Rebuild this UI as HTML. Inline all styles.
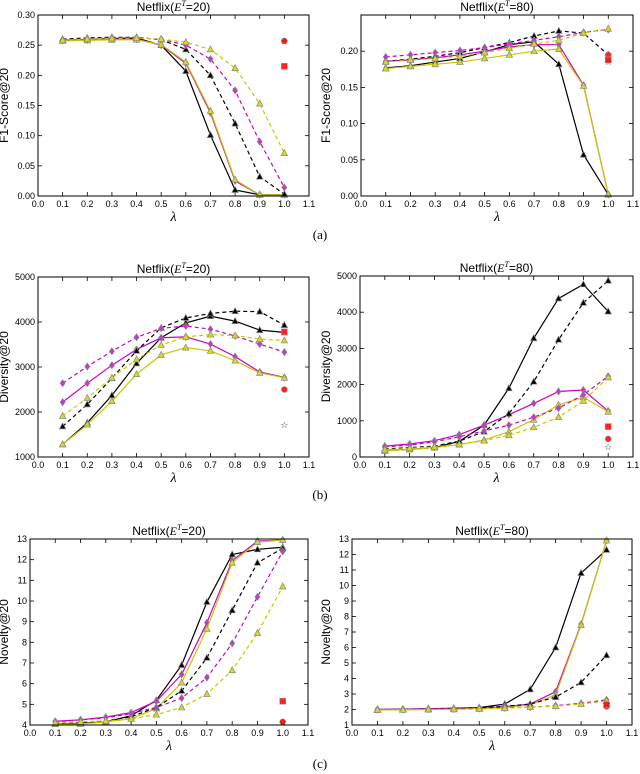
<!DOCTYPE html>
<html><head><meta charset="utf-8"><style>
html,body{margin:0;padding:0;background:#fff;}
svg{display:block;font-family:"Liberation Sans",sans-serif;}
</style></head><body>
<svg id="fig" width="640" height="774" viewBox="0 0 640 774"></svg>
<script>
const lambdas=[0.1,0.2,0.3,0.4,0.5,0.6,0.7,0.8,0.9,1.0];
const xTicks=[0.0,0.1,0.2,0.3,0.4,0.5,0.6,0.7,0.8,0.9,1.0,1.1];
const seriesNames=['black-solid','magenta-solid','yellow-solid','black-dashed','magenta-dashed','yellow-dashed'];
const f1E20=[
[.258,.259,.261,.262,.25,.207,.101,.01,.002,.002],
[.258,.259,.26,.26,.25,.22,.138,.025,.002,.002],
[.257,.258,.259,.259,.251,.222,.141,.027,.002,.002],
[.26,.262,.263,.263,.259,.243,.2,.12,.032,.003],
[.259,.26,.262,.262,.26,.25,.227,.175,.09,.014],
[.258,.26,.261,.262,.26,.255,.243,.212,.153,.071]];
const f1E20Red=[.257,.215,.256];
const f1E80=[
[.177,.18,.185,.19,.199,.209,.213,.182,.057,.002],
[.186,.188,.191,.195,.2,.206,.209,.209,.153,.002],
[.176,.179,.182,.185,.19,.195,.2,.203,.152,.002],
[.186,.189,.193,.198,.205,.212,.221,.228,.225,.195],
[.192,.195,.198,.201,.205,.21,.215,.22,.226,.23],
[.185,.188,.19,.193,.198,.204,.21,.215,.225,.231]];
const f1E80Red=[.195,.188,.185];
const divE20=[
[1280,1760,2370,3080,3650,3980,4130,4020,3820,3770],
[2220,2640,3040,3390,3650,3670,3510,3230,2890,2770],
[1280,1720,2240,2840,3270,3430,3360,3140,2870,2760],
[1680,2170,2750,3360,3870,4090,4190,4240,4230,3930],
[2640,3010,3350,3660,3860,3910,3840,3690,3510,3330],
[1910,2310,2760,3170,3490,3670,3720,3700,3620,3590]];
const divE20Red=[2500,3780,1710];
const divE80=[
[180,210,260,430,880,1900,3280,4380,4770,4020],
[300,360,450,620,880,1170,1480,1810,1850,1270],
[170,210,260,340,470,700,1030,1440,1650,1250],
[220,260,300,440,700,1200,2080,3240,4260,4870],
[280,330,420,560,720,880,1100,1350,1720,2230],
[200,240,280,350,450,600,820,1100,1550,2200]];
const divE80Red=[500,840,270];
const novE20=[
[4.05,4.08,4.15,4.45,5.2,6.9,9.95,12.25,12.5,12.6],
[4.18,4.25,4.38,4.6,5.15,6.45,8.95,11.95,12.9,12.95],
[4.05,4.05,4.15,4.3,4.8,6.05,8.65,11.85,12.85,12.95],
[4.08,4.12,4.2,4.4,4.85,5.65,7.25,9.55,11.85,12.55],
[4.15,4.25,4.35,4.55,4.85,5.3,6.3,7.95,10.2,12.4],
[4.1,4.15,4.2,4.3,4.5,4.85,5.5,6.65,8.45,10.7]];
const novE20Red=[4.15,5.15,4.15];
const novE80=[
[2.0,2.02,2.05,2.08,2.12,2.35,3.3,6.0,10.8,12.3],
[2.0,2.02,2.04,2.06,2.1,2.18,2.35,3.15,7.5,12.9],
[1.97,1.98,2.0,2.02,2.06,2.12,2.3,2.95,7.45,12.9],
[2.0,2.01,2.03,2.05,2.1,2.2,2.35,2.8,3.75,5.5],
[2.0,2.0,2.02,2.03,2.06,2.1,2.15,2.25,2.4,2.62],
[1.97,1.98,2.0,2.01,2.04,2.08,2.15,2.22,2.35,2.55]];
const novE80Red=[2.2,2.3,2.35];
const f1Ticks20=[0,.05,.1,.15,.2,.25,.3];
const f1Ticks80=[0,.05,.1,.15,.2];
const divTicks20=[1000,2000,3000,4000,5000];
const divTicks80=[0,1000,2000,3000,4000,5000];
const novTicks20=[4,5,6,7,8,9,10,11,12,13];
const novTicks80=[1,2,3,4,5,6,7,8,9,10,11,12,13];

const NS='http://www.w3.org/2000/svg';
const fig=document.getElementById('fig');
function mk(tag,attrs,parent){const e=document.createElementNS(NS,tag);for(const k in attrs)e.setAttribute(k,attrs[k]);(parent||fig).appendChild(e);return e;}
const colors=['#000','#cc00cc','#c8c800','#000','#cc00cc','#c8c800'];
const fills=['#000','#cc33cc','#d8d820','#000','#cc33cc','#d8d820'];

function panel(cfg){
  const g=mk('g',{});
  
  
  const L=cfg.box[0],R=cfg.box[1],T=cfg.box[2],B=cfg.box[3];
  const xs=v=>L+(v-0)/(1.1-0)*(R-L);
  const ys=v=>B-(v-cfg.ymin)/(cfg.ymax-cfg.ymin)*(B-T);
  const t=mk('text',{x:(L+R)/2,y:T-4,'text-anchor':'middle','font-size':12},g);
  
  t.innerHTML='Netflix(<tspan font-family="Liberation Serif" font-style="italic">E</tspan><tspan font-family="Liberation Serif" font-style="italic" font-size="8" dy="-5">T</tspan><tspan dy="5">='+cfg.et+')</tspan>';
  xTicks.forEach(v=>{const x=xs(v);
    mk('line',{x1:x,x2:x,y1:B,y2:B-4,stroke:'#000','stroke-width':0.8},g);
    mk('line',{x1:x,x2:x,y1:T,y2:T+4,stroke:'#000','stroke-width':0.8},g);
    const tx=mk('text',{x:x,y:B+11,'text-anchor':'middle','font-size':9},g);tx.textContent=v.toFixed(1);
    
  });
  cfg.yt.forEach(v=>{const y=ys(v);
    mk('line',{x1:L,x2:L+4,y1:y,y2:y,stroke:'#000','stroke-width':0.8},g);
    mk('line',{x1:R,x2:R-4,y1:y,y2:y,stroke:'#000','stroke-width':0.8},g);
    const ty=mk('text',{x:L-3,y:y+3,'text-anchor':'end','font-size':9},g);ty.textContent=cfg.fmt(v);
    
  });
  const xl=mk('text',{x:(L+R)/2,y:B+25,'text-anchor':'middle','font-size':14,'font-family':'Liberation Serif','font-style':'italic'},g);
  xl.textContent='λ';
  const yl=mk('text',{transform:`translate(${cfg.ylx},${(T+B)/2}) rotate(-90)`,'text-anchor':'middle','font-size':12},g);
  yl.textContent=cfg.ylabel;
  cfg.data.forEach((arr,i)=>{
    const pts=arr.map((v,j)=>xs(lambdas[j])+','+ys(v)).join(' ');
    const pl=mk('polyline',{points:pts,fill:'none',stroke:colors[i],'stroke-width':1.2,'stroke-dasharray':i>=3?'4,3':'none'},g);
    
    arr.forEach((v,j)=>{const x=xs(lambdas[j]),y=ys(v);let m;
      if(i==1||i==4){m=mk('polygon',{points:`${x},${y-3.5} ${x+2.5},${y} ${x},${y+3.5} ${x-2.5},${y}`,fill:fills[i],stroke:'#888','stroke-width':0.7},g);}
      else{m=mk('polygon',{points:`${x},${y-3.5} ${x+3.2},${y+2.5} ${x-3.2},${y+2.5}`,fill:fills[i],stroke:'#888','stroke-width':0.7},g);}
      
    });
  });
  const rx=xs(1.0);
  const c=mk('circle',{cx:rx,cy:ys(cfg.red[0]),r:3,fill:'#f22',stroke:'#999','stroke-width':0.6},g);
  
  const s=mk('rect',{x:rx-3,y:ys(cfg.red[1])-3,width:6,height:6,fill:'#f22',stroke:'#999','stroke-width':0.6},g);
  
  const st=mk('text',{x:rx,y:ys(cfg.red[2])+3,'text-anchor':'middle','font-size':9,fill:'#333','font-family':'DejaVu Sans'},g);
  st.textContent='☆';
  const fr=mk('rect',{x:L,y:T,width:R-L,height:B-T,fill:'none',stroke:'#000','stroke-width':1},g);
  
}
const f2=v=>v.toFixed(2), f0=v=>String(v);
panel({name:'f1-e20-panel',box:[38,309,15,196],ymin:0,ymax:0.30,yt:f1Ticks20,fmt:f2,data:f1E20,red:f1E20Red,et:20,ylabel:'F1-Score@20',ylx:8});
panel({name:'f1-e80-panel',box:[361,633,15,196],ymin:0,ymax:0.25,yt:f1Ticks80,fmt:f2,data:f1E80,red:f1E80Red,et:80,ylabel:'F1-Score@20',ylx:330});
panel({name:'diversity-e20-panel',box:[38,309,277,457],ymin:1000,ymax:5000,yt:divTicks20,fmt:f0,data:divE20,red:divE20Red,et:20,ylabel:'Diversity@20',ylx:8});
panel({name:'diversity-e80-panel',box:[360,633,276,457],ymin:0,ymax:5000,yt:divTicks80,fmt:f0,data:divE80,red:divE80Red,et:80,ylabel:'Diversity@20',ylx:330});
panel({name:'novelty-e20-panel',box:[30,308,539,725],ymin:4,ymax:13,yt:novTicks20,fmt:f0,data:novE20,red:novE20Red,et:20,ylabel:'Novelty@20',ylx:8});
panel({name:'novelty-e80-panel',box:[352,632,539,725],ymin:1,ymax:13,yt:novTicks80,fmt:f0,data:novE80,red:novE80Red,et:80,ylabel:'Novelty@20',ylx:330});
[['(a)',239],['(b)',499],['(c)',768]].forEach(([s,y])=>{
  const t=mk('text',{x:320,y:y,'text-anchor':'middle','font-size':13,'font-family':'Liberation Serif'});
  t.textContent=s;
});
</script>
</body></html>
